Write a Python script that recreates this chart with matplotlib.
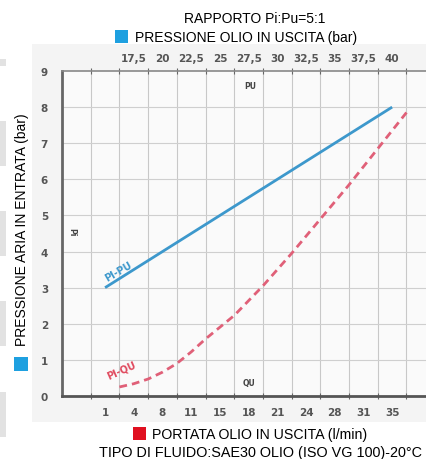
import matplotlib
matplotlib.use("Agg")
import matplotlib.pyplot as plt
from matplotlib.patches import Rectangle

# grid positions (one cell per column) and the labels printed in them
flow_labels = ["1", "4", "8", "11", "15", "18", "21", "24", "28", "31", "35"]
flow_pos = [1.5, 2.5, 3.5, 4.5, 5.5, 6.5, 7.5, 8.5, 9.5, 10.5, 11.5]
press_labels = ["17,5", "20", "22,5", "25", "27,5", "30", "32,5", "35", "37,5", "40"]
press_pos = [2.5, 3.5, 4.5, 5.5, 6.5, 7.5, 8.5, 9.5, 10.5, 11.5]

# Pi-Pu line
pu_x = [1.5, 11.5]
pu_y = [3.0, 8.0]

# Pi-Qu curve
qu_x = [2.0, 2.5, 3.0, 3.5, 4.0, 4.5, 5.0, 6.0, 7.0, 8.0, 9.0, 10.0, 11.0, 12.0]
qu_y = [0.25, 0.34, 0.47, 0.66, 0.9, 1.22, 1.58, 2.23, 3.05, 3.95, 4.9, 5.85, 6.85, 7.85]

W, H = 427, 460
fig = plt.figure(figsize=(W / 100, H / 100), dpi=100)
fig.patch.set_facecolor("white")

def fx(px):
    return px / W

def fy(py):
    return 1 - py / H

# light grey backdrop of the scanned chart
fig.patches.append(Rectangle((fx(32), fy(423)), fx(427) - fx(32), fy(45) - fy(423),
                             transform=fig.transFigure, facecolor="#f4f4f4",
                             edgecolor="none", zorder=-10))
# grey page bits on the left edge
for top, bot in [(60, 67), (122, 167), (212, 257), (302, 347), (393, 438)]:
    fig.patches.append(Rectangle((0, fy(bot)), fx(6), fy(top) - fy(bot),
                                 transform=fig.transFigure, facecolor="#e2e2e2",
                                 edgecolor="none", zorder=-10))

ax = fig.add_axes([fx(62), fy(397), fx(426) - fx(62), fy(72) - fy(397)])
ax.set_zorder(1)
ax.set_facecolor("#fafafa")
ax.set_xlim(0, 12.68)
ax.set_ylim(0, 9)

for gx in range(1, 13):
    ax.axvline(gx, color="#c8c8c8", lw=0.8, zorder=1)
for gy in range(1, 9):
    ax.axhline(gy, color="#cfcfcf", lw=0.8, zorder=1)

ax.plot(pu_x, pu_y, color="#3d98cc", lw=2, solid_capstyle="butt", zorder=3)
ax.plot(qu_x, qu_y, color="#e06078", lw=2, dashes=(2.8, 1.8), zorder=3)

ax.text(1.95, 3.45, "PI-PU", color="#3d98cc", fontsize=7, fontweight="bold",
        rotation=30, ha="center", va="center")
ax.text(2.05, 0.72, "PI-QU", color="#e04a5e", fontsize=7, fontweight="bold",
        rotation=24, ha="center", va="center")
ax.text(6.55, 8.6, "PU", color="#444444", fontsize=5.5, fontweight="bold",
        ha="center", va="center")
ax.text(6.5, 0.36, "QU", color="#444444", fontsize=5.5, fontweight="bold",
        ha="center", va="center")
ax.text(0.35, 4.57, "Pi", color="#444444", fontsize=5.5, fontweight="bold",
        rotation=-90, ha="center", va="center")

ax.spines["right"].set_visible(False)
ax.spines["left"].set_color("#666666")
ax.spines["left"].set_linewidth(2)
ax.spines["bottom"].set_color("#555555")
ax.spines["bottom"].set_linewidth(2)
ax.spines["top"].set_color("#888888")
ax.spines["top"].set_linewidth(1.2)

# bottom axis: flow
ax.set_xticks(range(1, 13))
ax.set_xticklabels([])
ax.set_xticks(flow_pos, minor=True)
ax.set_xticklabels(flow_labels, minor=True)
ax.tick_params(axis="x", which="major", direction="inout", length=5, width=0.8,
               color="#666666", top=True, bottom=True)
ax.tick_params(axis="x", which="minor", length=0, pad=8, labelsize=7.5,
               labelcolor="#555555")
for t in ax.get_xticklabels(minor=True):
    t.set_fontweight("bold")

# top axis: oil pressure
top = ax.secondary_xaxis("top")
top.set_xticks(press_pos)
top.set_xticklabels(press_labels)
top.tick_params(length=0, pad=6, labelsize=7.5, labelcolor="#555555")
top.spines["top"].set_visible(False)
for t in top.get_xticklabels():
    t.set_fontweight("bold")

ax.set_yticks(range(0, 10))
ax.tick_params(axis="y", length=0, pad=10, labelsize=7.5, labelcolor="#555555")
for t in ax.get_yticklabels():
    t.set_fontweight("bold")

fam = ["Liberation Sans Narrow", "Liberation Sans", "DejaVu Sans"]
fig.text(fx(255), fy(19), "RAPPORTO Pi:Pu=5:1", ha="center", va="center",
         fontsize=10, family=fam)
fig.patches.append(Rectangle((fx(115), fy(44)), fx(13), fy(31) - fy(44),
                             transform=fig.transFigure, facecolor="#1ea0e0",
                             edgecolor="none"))
fig.text(fx(135), fy(38), "PRESSIONE OLIO IN USCITA (bar)", ha="left",
         va="center", fontsize=10, family=fam)

fig.patches.append(Rectangle((fx(14), fy(372)), fx(14), fy(358) - fy(372),
                             transform=fig.transFigure, facecolor="#1ea0e0",
                             edgecolor="none"))
fig.text(fx(22), fy(230), "PRESSIONE ARIA IN ENTRATA (bar)", ha="center",
         va="center", rotation=90, fontsize=10, family=fam)

fig.patches.append(Rectangle((fx(133), fy(441)), fx(13), fy(428) - fy(441),
                             transform=fig.transFigure, facecolor="#e01020",
                             edgecolor="none"))
fig.text(fx(152), fy(435), "PORTATA OLIO IN USCITA (l/min)", ha="left",
         va="center", fontsize=10.2, family=fam)
fig.text(fx(422), fy(453), "TIPO DI FLUIDO:SAE30 OLIO (ISO VG 100)-20°C",
         ha="right", va="center", fontsize=10.4, family=fam)

fig.savefig("out.png", dpi=100)
